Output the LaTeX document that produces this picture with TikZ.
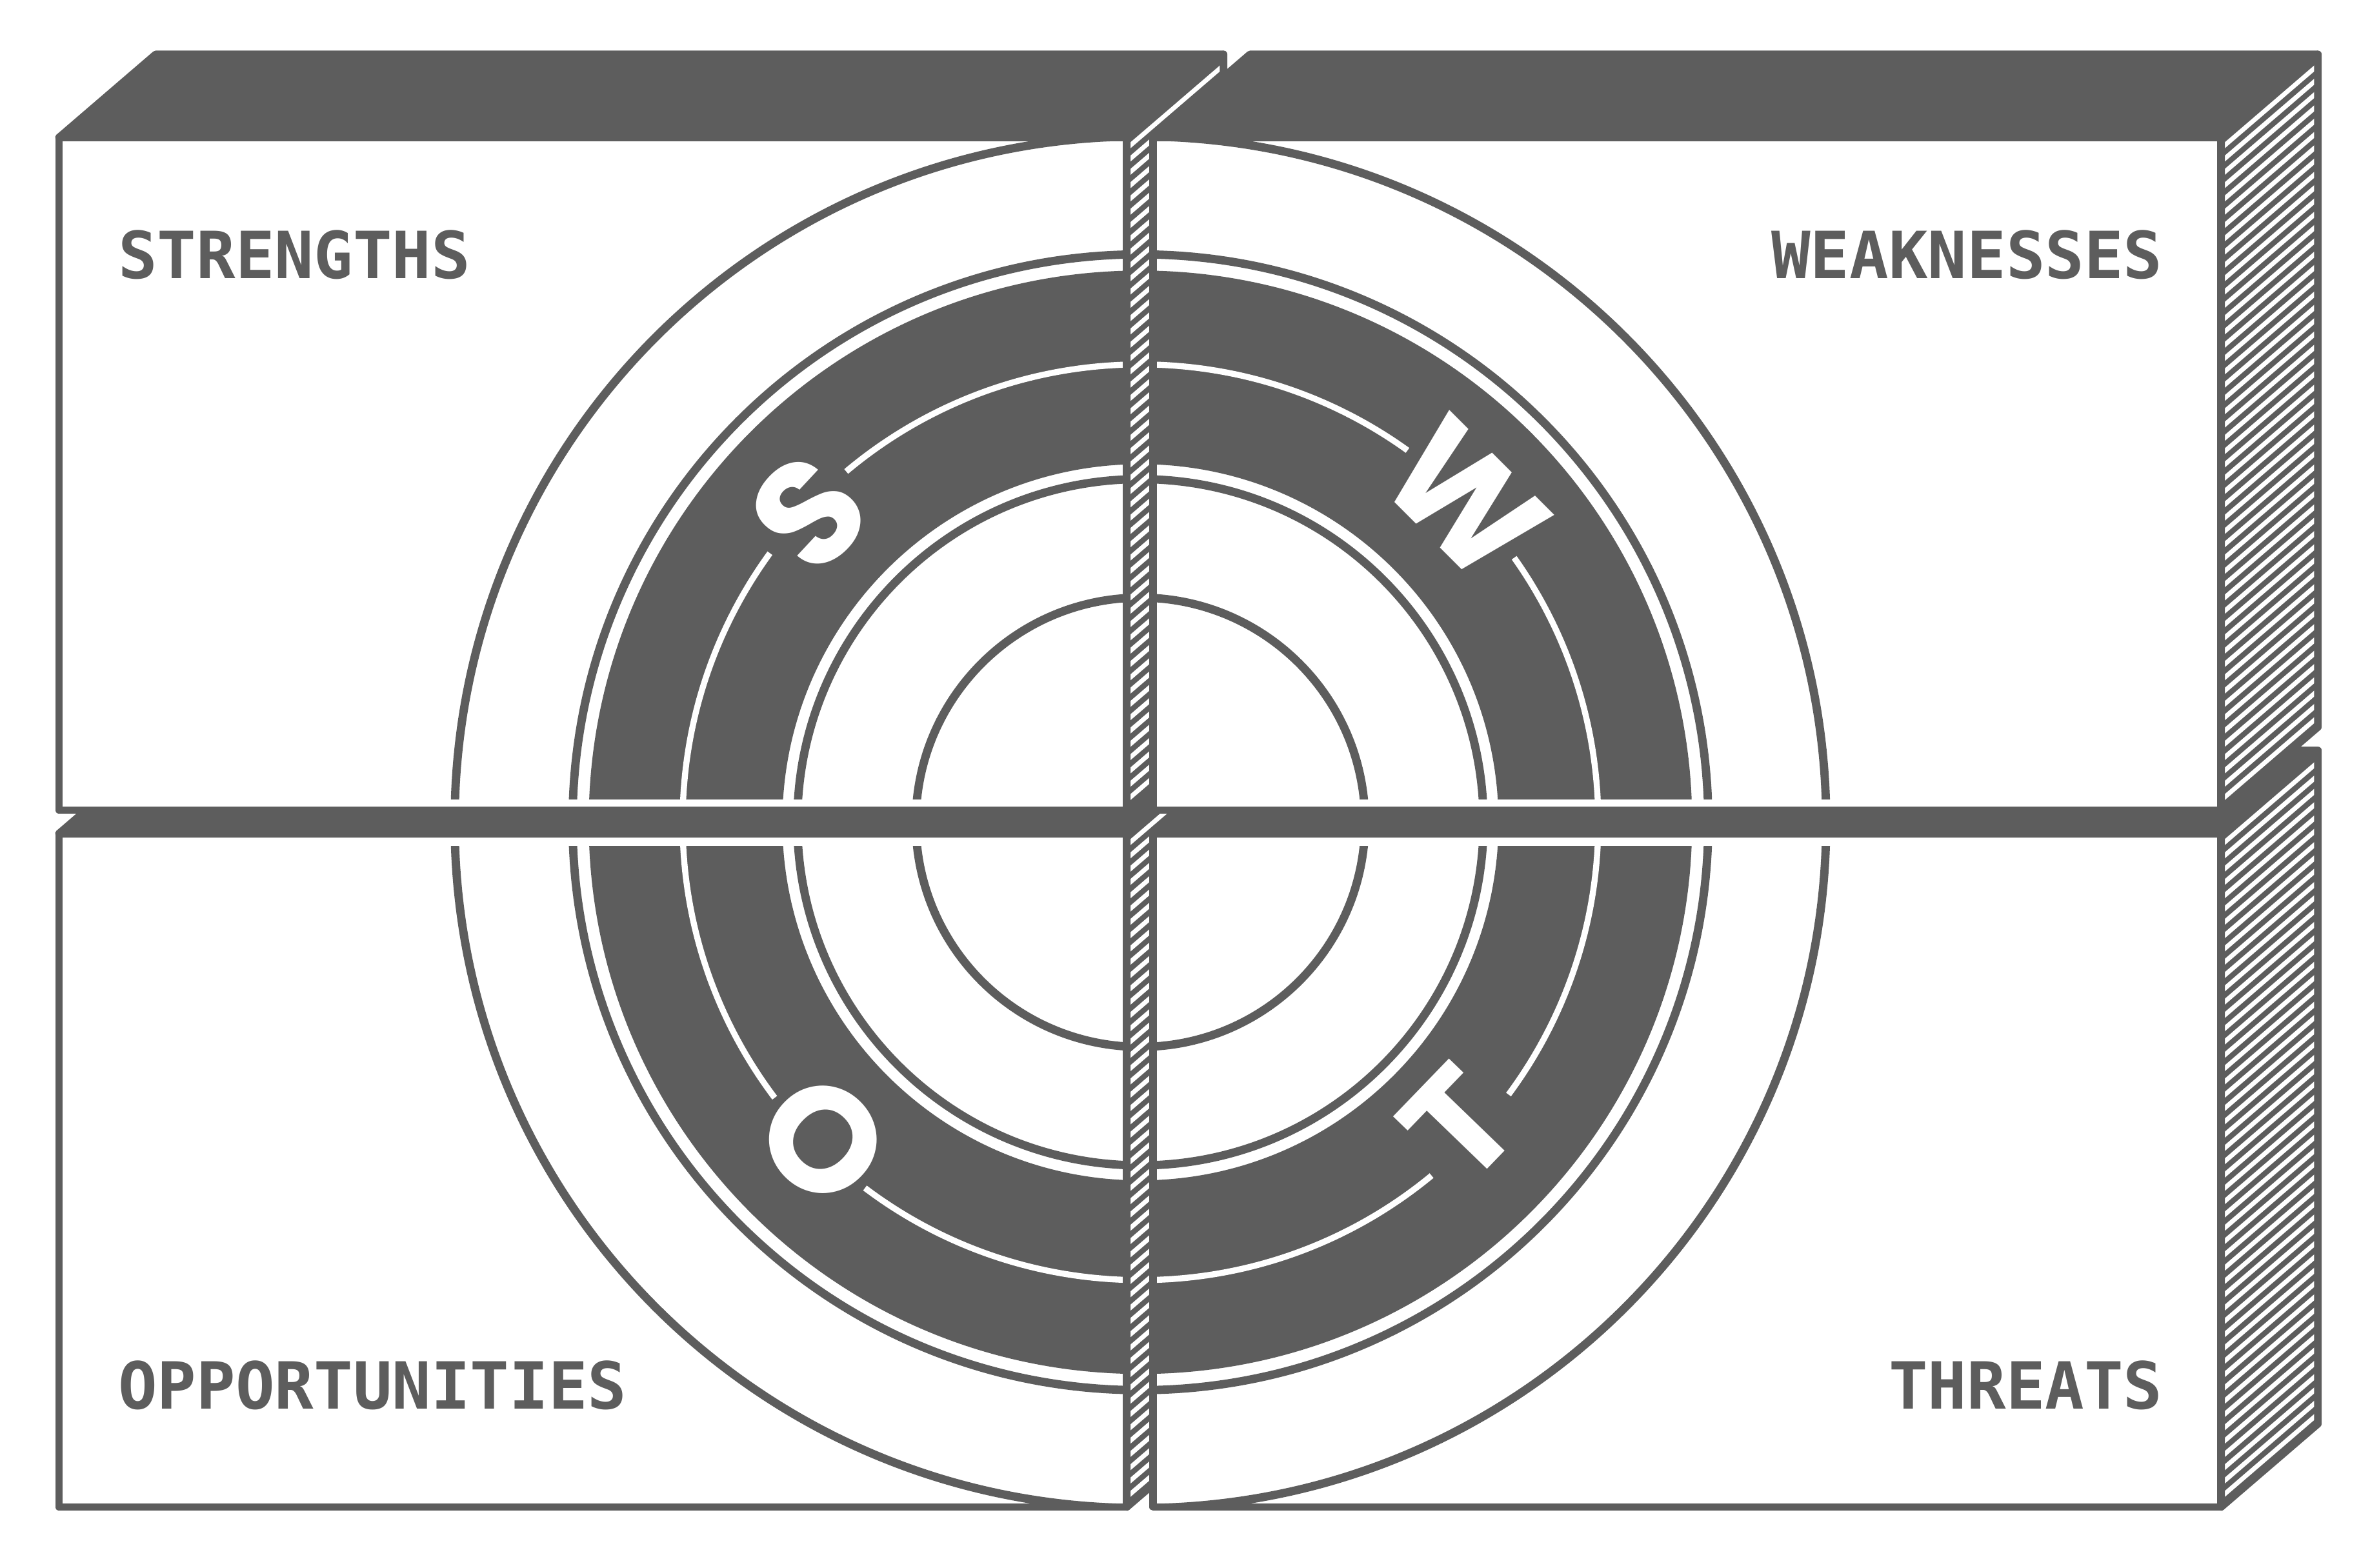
\documentclass[tikz,border=0pt]{standalone}
\usepackage{fontspec}
\newfontfamily\labelfont{DejaVu Sans Mono}
\newfontfamily\letterfont{Poppins}
\usetikzlibrary{calc}
\definecolor{dk}{HTML}{5D5D5D}
\tikzset{
  edge/.style={draw=dk, line width=5pt, line join=round},
  ring/.style={draw=dk, line width=5.5pt},
  hatchline/.style={draw=white, line width=3pt},
  lbl/.style={text=dk, inner sep=0pt, font=\labelfont\bfseries\fontsize{43}{43}\selectfont},
  bigletter/.style={text=white, inner sep=0pt, font=\letterfont\bfseries\fontsize{98}{98}\selectfont},
}
% back faces of a block: xl xr yb yt (front face)
\newcommand\swotback[4]{%
  \fill[dk] (#2,#3) -- ++(64,55) -- ({#2+64},{#4+55}) -- (#2,#4) -- cycle;
  \begin{scope}
    \clip (#2,#3) -- ++(64,55) -- ({#2+64},{#4+55}) -- (#2,#4) -- cycle;
    \foreach \k in {0,...,58} \draw[hatchline] (#2,{#3-55+\k*8.8}) -- ++(64,55);
  \end{scope}
  \draw[edge] (#2,#3) -- ++(64,55) -- ({#2+64},{#4+55}) -- (#2,#4) -- cycle;
  \filldraw[edge, fill=dk] (#1,#4) -- ++(64,55) -- ({#2+64},{#4+55}) -- (#2,#4) -- cycle;
  \fill[white] (#1,#3) rectangle (#2,#4);
}
\newcommand\swotfront[4]{\draw[edge] (#1,#3) rectangle (#2,#4);}
% quadrant of the target: clip xl xr yb yt, letter, angle, radius, rotation, gap half-angle
\newcommand\swotquad[9]{%
  \begin{scope}
    \clip (#1,#3) rectangle (#2,#4);
    \draw[ring] (C) circle[radius=453.7];
    \draw[ring] (C) circle[radius=375.7];
    \fill[dk, even odd rule] (C) circle[radius=365] (C) circle[radius=236.9];
    \draw[draw=white, line width=4pt] (C) circle[radius=302.9];
    \fill[dk] ([shift={({#6-#9}:296)}]C) arc[start angle={#6-#9}, end angle={#6+#9}, radius=296]
      -- ([shift={({#6+#9}:310)}]C) arc[start angle={#6+#9}, end angle={#6-#9}, radius=310] -- cycle;
    \draw[ring] (C) circle[radius=227];
    \draw[ring] (C) circle[radius=148.6];
    \node[bigletter, rotate=#8] (L#5) at ([shift={(#6:#7)}]C) {#5};
  \end{scope}
}
\begin{document}
\begin{tikzpicture}[x=1pt,y=1pt]
\useasboundingbox (0,0) rectangle (1568,1037);
\coordinate (C) at (754.5,493);
% bottom-left block
\swotback{39}{745.5}{40}{485.5}
\swotquad{39}{745.5}{40}{477.3}{O}{225}{297}{-45}{8}
\swotfront{39}{745.5}{40}{485.5}
% bottom-right block
\swotback{763}{1469.5}{40}{485.5}
\swotquad{763}{1469.5}{40}{477.3}{T}{-43.5}{290}{46}{7}
\swotfront{763}{1469.5}{40}{485.5}
% top-left block
\swotback{39}{745.5}{501}{946}
\swotquad{39}{745.5}{508.4}{946}{S}{137}{300}{47}{7}
\swotfront{39}{745.5}{501}{946}
% top-right block
\swotback{763}{1469.5}{501}{946}
\swotquad{763}{1469.5}{508.4}{946}{W}{44.8}{303}{-45}{9.5}
\swotfront{763}{1469.5}{501}{946}
% labels
\node[lbl, anchor=base west] (strengths) at (78,853) {STRENGTHS};
\node[lbl, anchor=base east] (weaknesses) at (1431,853) {WEAKNESSES};
\node[lbl, anchor=base west] (opportunities) at (78,105) {OPPORTUNITIES};
\node[lbl, anchor=base east] (threats) at (1431,105) {THREATS};
\end{tikzpicture}
\end{document}
